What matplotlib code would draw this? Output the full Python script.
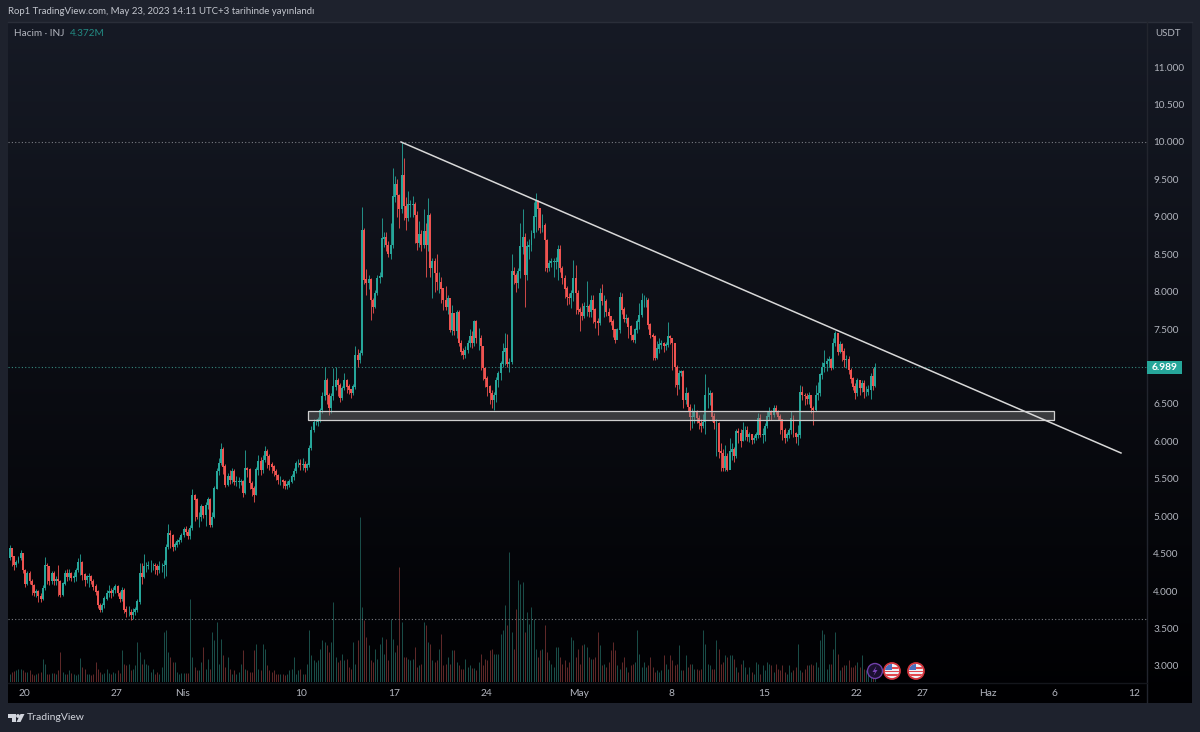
import numpy as np
import matplotlib
matplotlib.use('Agg')
import matplotlib.pyplot as plt
from matplotlib.patches import Rectangle, Circle, Polygon

UP = '#26a69a'
DOWN = '#ef5350'
TEXT = '#b2b5be'
FRAME = '#1e222d'

first_open = 4.60
first_day = -1.25  # days after Mar 20, candles are 4h

close = [
    4.44, 4.57, 4.46, 4.35, 4.39, 4.44, 4.50, 4.28, 4.10, 4.24,
    4.13, 4.08, 3.97, 3.99, 3.93, 3.90, 4.04, 4.35, 4.33, 4.13,
    4.24, 4.13, 4.15, 4.13, 3.95, 4.10, 4.24, 4.19, 4.24, 4.18,
    4.19, 4.28, 4.39, 4.39, 4.22, 4.15, 4.19, 4.19, 4.13, 4.06,
    3.99, 3.81, 3.75, 3.81, 3.90, 3.97, 3.99, 3.97, 4.01, 4.06,
    3.97, 3.90, 4.01, 3.75, 3.72, 3.72, 3.68, 3.72, 3.75, 3.86,
    4.24, 4.19, 4.33, 4.33, 4.35, 4.35, 4.35, 4.33, 4.28, 4.33,
    4.33, 4.35, 4.59, 4.77, 4.75, 4.59, 4.62, 4.66, 4.68, 4.75,
    4.82, 4.79, 4.74, 4.84, 5.28, 5.22, 4.99, 4.99, 5.13, 5.02,
    5.15, 5.22, 4.88, 4.99, 5.37, 5.60, 5.71, 5.89, 5.66, 5.42,
    5.53, 5.48, 5.60, 5.46, 5.46, 5.46, 5.46, 5.31, 5.64, 5.62,
    5.44, 5.37, 5.28, 5.62, 5.73, 5.62, 5.75, 5.86, 5.80, 5.69,
    5.66, 5.60, 5.55, 5.48, 5.48, 5.46, 5.40, 5.42, 5.46, 5.53,
    5.60, 5.71, 5.71, 5.69, 5.69, 5.64, 5.69, 5.91, 6.15, 6.26,
    6.26, 6.29,
    6.42, 6.60, 6.82, 6.62, 6.44, 6.60, 6.73, 6.82, 6.75, 6.58,
    6.71, 6.82, 6.73, 6.69, 6.64, 6.73, 7.15, 7.09, 7.18, 8.82,
    8.16, 8.11, 8.16, 7.89, 7.80, 7.98, 8.18, 8.20, 8.71, 8.73,
    8.62, 8.51, 8.62, 9.27, 9.43, 9.29, 9.11, 9.56, 9.14, 8.98,
    9.16, 9.16, 9.16, 9.02, 8.65, 8.76, 8.62, 8.80, 8.62, 9.02,
    8.31, 8.40, 8.25, 8.13, 8.13, 8.04, 7.89, 7.80, 7.91, 7.49,
    7.71, 7.47, 7.73, 7.31, 7.20, 7.15, 7.22, 7.31, 7.40, 7.31,
    7.60, 7.38, 7.38, 7.27, 6.98, 6.84, 6.73, 6.64, 6.55, 6.62,
    6.82, 6.91, 7.04, 7.20, 7.24, 7.04, 7.06, 8.27, 8.22, 8.11,
    8.27, 8.60, 8.73, 8.22, 8.60, 8.62, 8.78, 9.00, 9.20, 9.11,
    8.85, 8.89, 8.69, 8.31, 8.38, 8.40, 8.40, 8.40, 8.56, 8.31,
    8.18, 8.04, 7.93, 7.91, 7.98, 8.18, 7.98, 7.76, 7.73, 7.67,
    7.80, 7.80, 7.73, 7.89, 7.76, 7.60, 7.58, 7.98,
    7.87, 7.87, 7.73, 7.67, 7.60, 7.49, 7.35, 7.49, 7.93, 7.76,
    7.64, 7.64, 7.53, 7.42, 7.35, 7.49, 7.60, 7.69, 7.89, 7.89,
    7.89, 7.56, 7.42, 7.40, 7.11, 7.24, 7.29, 7.31, 7.27, 7.29,
    7.40, 7.38, 7.31, 6.99, 6.75, 6.91, 6.93, 6.55, 6.64,
    6.46, 6.33, 6.33, 6.40, 6.31, 6.24, 6.20, 6.26, 6.62, 6.62,
    6.64, 6.33, 6.24, 6.24, 5.86, 5.84, 5.64, 5.80, 5.62, 5.86,
    5.89, 5.80, 6.13, 6.11, 6.00, 6.15, 6.15, 6.06, 6.09, 6.02,
    6.04, 6.09, 6.31, 6.09, 6.09, 6.20, 6.33, 6.40, 6.35,
    6.44, 6.40, 6.33, 6.29, 6.15, 6.04, 6.09, 6.15, 6.31, 6.11,
    6.06, 6.09, 6.66, 6.62, 6.60, 6.57, 6.62, 6.44, 6.42,
    6.62, 6.64, 6.89, 6.99, 7.04, 7.07, 7.09, 6.98, 7.31, 7.44,
    7.20, 7.29, 7.20, 7.09, 7.09, 6.95, 6.84, 6.73, 6.64, 6.82,
    6.71, 6.78, 6.66, 6.66, 6.69, 6.87, 6.74, 6.989,
]

high = [
    4.60, 4.62, 4.58, 4.46, 4.42, 4.47, 4.55, 4.51, 4.30, 4.27,
    4.27, 4.16, 4.10, 4.03, 4.01, 3.98, 4.08, 4.45, 4.38, 4.34,
    4.27, 4.27, 4.20, 4.35, 4.15, 4.12, 4.28, 4.30, 4.30, 4.26,
    4.25, 4.31, 4.44, 4.49, 4.40, 4.24, 4.22, 4.24, 4.22, 4.16,
    4.09, 4.02, 3.84, 3.84, 3.93, 4.02, 4.08, 4.04, 4.06, 4.09,
    4.08, 4.00, 4.05, 4.04, 3.80, 3.80, 3.76, 3.78, 3.79, 3.90,
    4.37, 4.38, 4.50, 4.39, 4.40, 4.41, 4.38, 4.38, 4.36, 4.40,
    4.37, 4.42, 4.63, 4.90, 4.82, 4.76, 4.66, 4.69, 4.72, 4.78,
    4.86, 4.87, 4.83, 4.88, 5.36, 5.30, 5.24, 5.05, 5.16, 5.14,
    5.19, 5.26, 5.24, 5.06, 5.40, 5.64, 5.78, 5.98, 5.92, 5.70,
    5.58, 5.62, 5.64, 5.63, 5.54, 5.52, 5.50, 5.48, 5.88, 5.66,
    5.64, 5.47, 5.40, 5.66, 5.82, 5.79, 5.82, 5.94, 5.90, 5.83,
    5.72, 5.68, 5.63, 5.57, 5.54, 5.50, 5.49, 5.47, 5.50, 5.56,
    5.65, 5.74, 5.76, 5.76, 5.78, 5.74, 5.71, 5.95, 6.20, 6.30,
    6.30, 6.33,
    6.45, 6.66, 7.00, 6.85, 6.65, 6.64, 6.98, 7.00, 6.85, 6.78,
    6.74, 6.92, 6.84, 6.76, 6.70, 6.76, 7.28, 7.23, 7.22, 9.13,
    8.85, 8.30, 8.22, 8.18, 7.92, 8.02, 8.22, 8.26, 8.98, 8.80,
    8.80, 8.68, 8.92, 9.65, 9.55, 9.50, 9.30, 10.00, 9.78, 9.26,
    9.35, 9.22, 9.28, 9.20, 9.08, 8.95, 8.82, 9.10, 8.92, 9.25,
    9.05, 8.45, 8.45, 8.50, 8.26, 8.20, 8.05, 8.08, 7.95, 7.92,
    7.82, 7.72, 7.75, 7.75, 7.36, 7.25, 7.28, 7.35, 7.50, 7.48,
    7.62, 7.62, 7.52, 7.42, 7.28, 7.00, 6.88, 6.75, 6.68, 6.66,
    6.86, 6.94, 7.08, 7.32, 7.45, 7.43, 7.12, 8.50, 8.33, 8.25,
    8.32, 8.92, 9.10, 8.78, 8.68, 8.70, 8.82, 9.20, 9.32, 9.22,
    9.12, 9.04, 8.92, 8.71, 8.42, 8.45, 8.45, 8.46, 8.62, 8.62,
    8.34, 8.22, 8.08, 7.98, 8.02, 8.42, 8.35, 8.02, 7.80, 7.85,
    7.86, 8.14, 7.84, 7.95, 7.95, 7.78, 7.65, 8.05,
    8.10, 7.95, 7.90, 7.78, 7.68, 7.64, 7.50, 7.52, 8.00, 7.98,
    7.80, 7.70, 7.66, 7.55, 7.44, 7.52, 7.64, 7.85, 7.98, 7.95,
    7.93, 7.92, 7.58, 7.45, 7.42, 7.34, 7.38, 7.36, 7.33, 7.33,
    7.60, 7.42, 7.35, 7.32, 7.02, 6.96, 6.95, 6.95, 6.72,
    6.66, 6.50, 6.45, 6.50, 6.42, 6.35, 6.30, 6.36, 6.90, 6.72,
    6.68, 6.66, 6.38, 6.30, 6.26, 5.98, 5.90, 5.95, 5.84, 6.05,
    5.98, 5.92, 6.16, 6.18, 6.16, 6.26, 6.20, 6.20, 6.12, 6.10,
    6.08, 6.12, 6.38, 6.36, 6.18, 6.25, 6.40, 6.46, 6.42,
    6.48, 6.48, 6.42, 6.36, 6.30, 6.18, 6.12, 6.18, 6.40, 6.35,
    6.12, 6.22, 6.75, 6.74, 6.64, 6.64, 6.66, 6.62, 6.47,
    6.75, 6.80, 6.92, 7.06, 7.22, 7.12, 7.14, 7.12, 7.38, 7.48,
    7.38, 7.34, 7.32, 7.25, 7.16, 7.14, 6.98, 6.86, 6.78, 6.85,
    6.80, 6.82, 6.82, 6.74, 6.75, 6.92, 6.98, 7.05,
]

low = [
    4.40, 4.42, 4.33, 4.28, 4.32, 4.37, 4.42, 4.24, 4.05, 4.08,
    4.09, 3.95, 3.93, 3.92, 3.86, 3.85, 3.88, 4.02, 4.10, 4.08,
    4.10, 4.08, 4.08, 3.93, 3.92, 3.93, 4.08, 4.13, 4.15, 4.14,
    4.12, 4.14, 4.26, 4.21, 4.15, 4.07, 4.11, 4.06, 4.09, 4.02,
    3.95, 3.78, 3.72, 3.72, 3.78, 3.88, 3.92, 3.91, 3.94, 3.98,
    3.93, 3.86, 3.87, 3.71, 3.66, 3.67, 3.62, 3.63, 3.68, 3.72,
    3.83, 4.10, 4.17, 4.26, 4.30, 4.26, 4.28, 4.23, 4.21, 4.24,
    4.25, 4.18, 4.20, 4.56, 4.58, 4.53, 4.55, 4.59, 4.63, 4.66,
    4.72, 4.75, 4.69, 4.70, 4.82, 4.94, 4.96, 4.85, 4.93, 4.97,
    4.87, 5.10, 4.86, 4.86, 4.97, 5.36, 5.55, 5.69, 5.56, 5.39,
    5.40, 5.43, 5.45, 5.42, 5.41, 5.38, 5.42, 5.26, 5.30, 5.52,
    5.37, 5.27, 5.19, 5.28, 5.55, 5.55, 5.58, 5.72, 5.65, 5.62,
    5.58, 5.54, 5.48, 5.43, 5.42, 5.38, 5.37, 5.36, 5.39, 5.45,
    5.49, 5.58, 5.66, 5.62, 5.62, 5.59, 5.62, 5.66, 5.88, 6.12,
    6.22, 6.20,
    6.26, 6.38, 6.55, 6.50, 6.35, 6.38, 6.55, 6.68, 6.60, 6.53,
    6.55, 6.68, 6.65, 6.63, 6.58, 6.62, 6.70, 7.00, 7.05, 7.15,
    8.10, 7.95, 8.03, 7.62, 7.72, 7.78, 7.95, 8.12, 8.20, 8.60,
    8.55, 8.47, 8.43, 8.58, 9.20, 9.00, 8.85, 9.05, 8.96, 8.82,
    8.95, 9.00, 9.00, 8.65, 8.56, 8.60, 8.55, 8.58, 8.20, 8.55,
    8.20, 7.92, 8.00, 8.02, 7.98, 7.85, 7.75, 7.75, 7.70, 7.46,
    7.42, 7.42, 7.38, 7.28, 7.16, 7.10, 7.12, 7.18, 7.26, 7.25,
    7.28, 7.32, 7.22, 6.96, 6.82, 6.72, 6.60, 6.50, 6.44, 6.42,
    6.52, 6.72, 6.82, 7.00, 7.02, 7.00, 6.93, 7.04, 8.10, 8.00,
    8.05, 8.18, 8.50, 7.80, 8.15, 8.44, 8.55, 8.72, 8.80, 8.82,
    8.78, 8.80, 8.28, 8.26, 8.28, 8.33, 8.20, 8.30, 8.15, 8.26,
    8.10, 7.92, 7.82, 7.84, 7.78, 7.88, 7.70, 7.70, 7.48, 7.62,
    7.65, 7.68, 7.66, 7.66, 7.58, 7.52, 7.42, 7.55,
    7.82, 7.66, 7.68, 7.60, 7.55, 7.40, 7.32, 7.38, 7.45, 7.70,
    7.60, 7.58, 7.38, 7.36, 7.33, 7.32, 7.45, 7.50, 7.66, 7.80,
    7.80, 7.50, 7.38, 7.09, 7.09, 7.10, 7.18, 7.24, 7.20, 7.22,
    7.26, 7.30, 6.95, 6.72, 6.62, 6.70, 6.88, 6.45, 6.50,
    6.40, 6.15, 6.18, 6.25, 6.25, 6.17, 6.13, 6.18, 6.10, 6.45,
    6.48, 6.27, 6.17, 5.80, 5.78, 5.60, 5.60, 5.60, 5.60, 5.68,
    5.75, 5.72, 5.78, 5.98, 5.92, 6.00, 6.02, 6.00, 5.99, 5.96,
    5.98, 6.02, 6.05, 6.06, 5.98, 6.00, 6.18, 6.28, 6.28,
    6.32, 6.36, 6.28, 6.10, 6.02, 5.98, 6.00, 6.05, 6.10, 6.06,
    5.98, 5.95, 6.05, 6.55, 6.48, 6.50, 6.50, 6.38, 6.22,
    6.40, 6.55, 6.60, 6.84, 6.93, 6.94, 7.00, 6.96, 6.97, 7.28,
    7.16, 7.18, 7.07, 7.00, 6.98, 6.90, 6.78, 6.68, 6.56, 6.60,
    6.62, 6.66, 6.58, 6.60, 6.62, 6.56, 6.68, 6.72,
]

# volume in units of 100k INJ, last bar is the 4.372M of the legend
volume = [
    30, 25, 30, 32, 35, 38, 38, 35, 30, 30,
    35, 25, 22, 25, 28, 30, 70, 55, 25, 25,
    28, 28, 25, 35, 90, 30, 25, 25, 35, 28,
    25, 22, 25, 72, 45, 40, 25, 25, 20, 25,
    60, 40, 30, 25, 28, 38, 28, 25, 30, 28,
    35, 28, 95, 55, 50, 55, 35, 40, 50, 120,
    90, 55, 70, 55, 50, 30, 40, 25, 30, 25,
    45, 150, 155, 90, 75, 60, 60, 30, 25, 28,
    28, 28, 28, 250, 75, 45, 35, 35, 60, 105,
    40, 70, 40, 150, 125, 180, 55, 130, 80, 45,
    75, 40, 25, 35, 25, 30, 55, 95, 40, 35,
    30, 30, 95, 115, 40, 35, 115, 100, 50, 35,
    30, 35, 25, 25, 25, 25, 20, 25, 35, 40,
    75, 25, 35, 40, 25, 25, 55, 155, 80, 65,
    60, 65, 100, 125, 120, 110, 90, 120, 240, 75,
    60, 65, 85, 65, 70, 45, 40, 120, 55, 125,
    495, 225, 185, 135, 110, 65, 60, 100, 70, 115,
    135, 85, 130, 65, 190, 130, 90, 110, 345, 180,
    75, 75, 70, 65, 70, 105, 45, 50, 55, 180,
    170, 120, 115, 65, 60, 65, 100, 145, 50, 55,
    75, 55, 95, 95, 60, 50, 40, 40, 70, 45,
    50, 42, 42, 35, 60, 85, 50, 70, 65, 95,
    100, 85, 85, 85, 145, 155, 230, 170, 390, 150,
    100, 220, 305, 295, 300, 150, 210, 175, 225, 190,
    100, 75, 95, 100, 170, 90, 65, 55, 45, 105,
    105, 75, 55, 65, 45, 60, 135, 125, 75, 100,
    55, 110, 115, 105, 75, 70, 70, 75, 150, 110,
    50, 55, 45, 60, 95, 120, 95, 50, 40, 60,
    75, 45, 30, 50, 55, 60, 155, 85, 45, 60,
    45, 50, 75, 45, 30, 35, 30, 35, 80, 55,
    40, 80, 65, 50, 55, 110, 35, 35, 80, 45,
    55, 55, 40, 40, 35, 40, 155, 115, 55, 50,
    40, 40, 125, 100, 55, 60, 80, 75, 80, 80,
    70, 45, 30, 55, 65, 45, 25, 45, 30, 25,
    60, 55, 25, 50, 35, 60, 55, 50, 30, 55,
    40, 35, 50, 30, 25, 50, 30, 35, 45, 115,
    35, 30, 40, 50, 50, 55, 50, 60, 45, 125,
    155, 145, 40, 55, 55, 100, 150, 85, 35, 45,
    50, 50, 65, 45, 45, 50, 60, 45, 80, 40,
    35, 20, 30, 35, 43.72,
]

# 7.000 sits behind the last price label in the original
price_ticks = [3.0, 3.5, 4.0, 4.5, 5.0, 5.5, 6.0, 6.5, 7.5, 8.0, 8.5, 9.0, 9.5, 10.0, 10.5, 11.0]
date_ticks = [0, 7, 12, 21, 28, 35, 42, 49, 56, 63, 68, 73, 78, 84]
date_labels = ['20', '27', 'Nis', '10', '17', '24', 'May', '8', '15', '22', '27', 'Haz', '6', '12']

last_price = 6.989
top_price = 10.0
low_line_price = 3.63
trend_days = [28.54, 83.04]
trend_prices = [10.0, 5.845]
zone_days = [21.5, 78.0]
zone_prices = [6.29, 6.405]

n = min(len(close), len(high), len(low), len(volume))

plt.rcParams['font.family'] = ['Lato', 'DejaVu Sans']
W, H = 1200, 732
fig = plt.figure(figsize=(W / 100, H / 100), dpi=100, facecolor=FRAME)


def rect(x0, y0, x1, y1):
    """ pixel box to figure fractions """
    return [x0 / W, 1 - y1 / H, (x1 - x0) / W, (y1 - y0) / H]


# background, pixel coordinates for the chrome
bg = fig.add_axes([0, 0, 1, 1], zorder=0)
bg.set_xlim(0, W)
bg.set_ylim(H, 0)
bg.axis('off')
grad = np.linspace(0, 1, 256).reshape(-1, 1)
top_col = np.array([0x16, 0x1a, 0x25]) / 255
bot_col = np.array([0x00, 0x00, 0x02]) / 255
img = (top_col * (1 - grad[..., None]) + bot_col * grad[..., None])
bg.imshow(img, extent=[8, 1192, 703, 22], aspect='auto', zorder=1)
bg.set_xlim(0, W)
bg.set_ylim(H, 0)
bg.plot([8, 1192], [22, 22], color='#2a2e39', lw=1, zorder=2)
bg.plot([1147, 1147], [22, 703], color='#22252e', lw=1, zorder=2)
bg.plot([8, 1147], [682.5, 682.5], color='#14161c', lw=1, zorder=2)

# volume pane shares the x scale, 1/3 px per unit
ax_vol = fig.add_axes(rect(8, 22, 1147, 682), zorder=1)
ax_vol.patch.set_visible(False)
ax_vol.axis('off')
ax_vol.set_ylim(0, 660 * 3)

ax = fig.add_axes(rect(8, 22, 1147, 683), zorder=2)
ax.patch.set_visible(False)
for s in ax.spines.values():
    s.set_visible(False)

days = first_day + np.arange(n) / 6
c = np.array(close[:n])
o = np.concatenate([[first_open], c[:-1]])
hi = np.array(high[:n])
lo = np.array(low[:n])
vol = np.array(volume[:n])
colors = np.where(c >= o, UP, DOWN)
vol_colors = np.where(c >= o, '#1a4f4a', '#622a2a')

ax_vol.vlines(days, 0, vol, colors=vol_colors, lw=0.7)
ax.vlines(days, lo, hi, colors=colors, lw=0.6, zorder=3)
ax.bar(days, np.abs(c - o) + 0.005, bottom=np.minimum(c, o), width=0.15, color=colors, lw=0, zorder=3)

for a in (ax, ax_vol):
    a.set_xlim(-1.211, 85.01)
ax.set_ylim(2.772, 11.603)

ax.axhline(top_price, color='#7a7d84', lw=0.8, ls=(0, (1, 2)), zorder=2)
ax.axhline(last_price, color='#37897f', lw=0.8, ls=(0, (1, 2)), zorder=2)
ax.axhline(low_line_price, color='#7a7d84', lw=0.8, ls=(0, (1, 2)), zorder=2)

ax.add_patch(Rectangle((zone_days[0], zone_prices[0]), zone_days[1] - zone_days[0],
                       zone_prices[1] - zone_prices[0], facecolor='#808080', alpha=0.42, lw=0, zorder=4))
ax.add_patch(Rectangle((zone_days[0], zone_prices[0]), zone_days[1] - zone_days[0],
                       zone_prices[1] - zone_prices[0], fill=False, edgecolor='#cfcfcf', lw=0.9, zorder=4))
ax.plot(trend_days, trend_prices, color='#d8d8d8', lw=1.1, zorder=5)

ax.yaxis.tick_right()
ax.set_yticks(price_ticks)
ax.set_yticklabels([f'{p:.3f}' for p in price_ticks], fontsize=7.2, color=TEXT)
ax.set_xticks(date_ticks)
ax.set_xticklabels(date_labels, fontsize=7.4, color=TEXT)
ax.tick_params(axis='both', length=0)
ax.tick_params(axis='y', pad=4.5)
ax.tick_params(axis='x', pad=4)

# overlay for texts and icons, pixel coordinates
top = fig.add_axes([0, 0, 1, 1], zorder=3)
top.set_xlim(0, W)
top.set_ylim(H, 0)
top.axis('off')
top.patch.set_visible(False)

top.text(8, 11, 'Rop1 TradingView.com, May 23, 2023 14:11 UTC+3 tarihinde yayınlandı',
         color='#c3c6ce', fontsize=6.9, va='center', ha='left')
top.text(14, 33, 'Hacim · INJ', color=TEXT, fontsize=7.2, va='center', ha='left')
top.text(70, 33, '4.372M', color=UP, alpha=0.8, fontsize=7.2, va='center', ha='left')
top.text(1155, 33, 'USDT', color=TEXT, fontsize=7, va='center', ha='left')

top.add_patch(Rectangle((1147, 361), 35, 13, facecolor=UP, lw=0))
top.text(1165, 367.6, f'{last_price:.3f}', color='white', fontsize=7.4, fontweight='bold',
         va='center', ha='center')

# event icons on the time line
top.add_patch(Circle((875, 671), 7.5, facecolor='#1b1030', edgecolor='#6f3fa8', lw=1))
top.add_patch(Polygon([(876.5, 666), (872.5, 672), (875, 672), (873.5, 676), (877.5, 670), (875, 670)],
                      facecolor='#7c45b8', lw=0))
for cx in (892, 916):
    clip = Circle((cx, 671), 7, transform=top.transData)
    top.add_patch(Circle((cx, 671), 8, facecolor='#eef0f4', edgecolor='#d2343c', lw=1.3))
    for k in range(3):
        r = top.add_patch(Rectangle((cx - 7, 667 + k * 3.6), 14, 1.6, facecolor='#e2484f', lw=0))
        r.set_clip_path(clip)
    r = top.add_patch(Rectangle((cx - 7, 664), 7, 6, facecolor='#4a6fc0', lw=0))
    r.set_clip_path(clip)

# TradingView logo
top.add_patch(Polygon([(8, 714), (16, 714), (16, 722), (12, 722), (12, 718), (8, 718)],
                      facecolor='#d1d4dc', lw=0))
top.add_patch(Circle((18, 716), 1.9, facecolor='#d1d4dc', lw=0))
top.add_patch(Polygon([(20.5, 714), (24.5, 714), (20.5, 722), (16.5, 722)], facecolor='#d1d4dc', lw=0))
top.text(27, 718, 'TradingView', color='#d1d4dc', fontsize=7.5, va='center', ha='left')

fig.savefig('out.png', dpi=100, facecolor=FRAME)
